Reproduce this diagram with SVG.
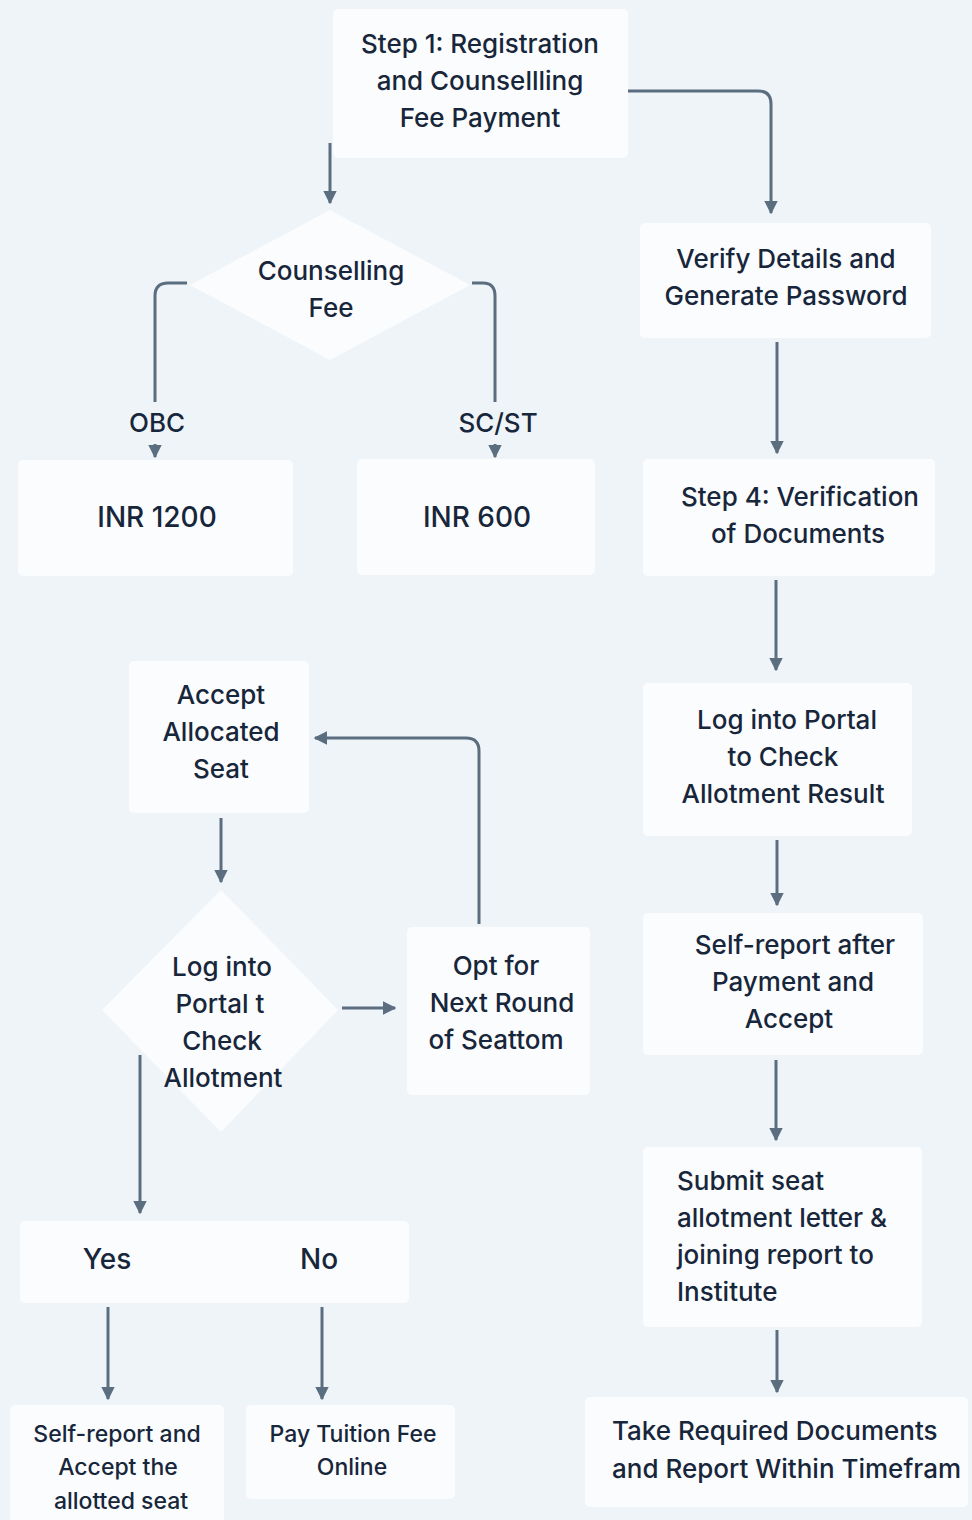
<svg xmlns="http://www.w3.org/2000/svg" width="972" height="1520" viewBox="0 0 972 1520">
<defs>
<marker id="ah" viewBox="0 0 10 10" refX="9" refY="5" markerWidth="4.5" markerHeight="4.5" orient="auto" markerUnits="strokeWidth">
<path d="M0,0 L10,5 L0,10 z" fill="#5b6e80"/>
</marker>
<style>
.bg{fill:#eff4f9}
.box{fill:#fbfcfd}
.t{font-family:Inter,"Liberation Sans",Arial,sans-serif;font-size:26px;font-weight:500;fill:#17263a;text-anchor:middle}
.l{text-anchor:start}
.s{font-size:23px}
.c{fill:none;stroke:#5b6e80;stroke-width:3;marker-end:url(#ah)}
.cn{fill:none;stroke:#5b6e80;stroke-width:3}
</style>
</defs>
<rect class="bg" x="0" y="0" width="972" height="1520"/>

<g id="connectors">
<path class="c" d="M330,143 V203"/>
<path class="c" d="M628,91 H758 Q771,91 771,104 V213"/>
<path class="cn" d="M187,283 H168 Q155,283 155,296 V402"/>
<path class="c" d="M155,444 V457"/>
<path class="cn" d="M472,283 H483 Q495,283 495,296 V402"/>
<path class="c" d="M495,444 V457"/>
<path class="c" d="M777,342 V453"/>
<path class="c" d="M776,580 V670"/>
<path class="c" d="M777,840 V905"/>
<path class="c" d="M776,1060 V1140"/>
<path class="c" d="M777,1330 V1392"/>
<path class="c" d="M221,818 V882"/>
<path class="c" d="M342,1008 H395"/>
<path class="c" d="M479,924 V751 Q479,738 466,738 H315"/>
<path class="c" d="M140,1055 V1213"/>
<path class="c" d="M108,1307 V1399"/>
<path class="c" d="M322,1307 V1399"/>
</g>

<g id="step1">
<rect class="box" x="333" y="9" width="295" height="149" rx="5"/>
<text class="t" x="480" y="53">Step 1: Registration</text>
<text class="t" x="480" y="90">and Counsellling</text>
<text class="t" x="480" y="127">Fee Payment</text>
</g>

<g id="fee-diamond">
<polygon class="box" points="330,210 470,285 330,360 190,285"/>
<text class="t" x="331" y="280">Counselling</text>
<text class="t" x="331" y="317">Fee</text>
</g>

<g id="obc-label"><text class="t" x="157" y="432">OBC</text></g>
<g id="scst-label"><text class="t" x="498" y="432">SC/ST</text></g>

<g id="inr1200">
<rect class="box" x="18" y="460" width="275" height="116" rx="5"/>
<text class="t" x="157" y="527" style="font-size:28px">INR 1200</text>
</g>

<g id="inr600">
<rect class="box" x="357" y="459" width="238" height="116" rx="5"/>
<text class="t" x="477" y="527" style="font-size:28px">INR 600</text>
</g>

<g id="verify">
<rect class="box" x="640" y="223" width="291" height="115" rx="5"/>
<text class="t" x="786" y="268">Verify Details and</text>
<text class="t" x="786" y="305">Generate Password</text>
</g>

<g id="step4">
<rect class="box" x="643" y="459" width="292" height="117" rx="5"/>
<text class="t" x="800" y="506">Step 4: Verification</text>
<text class="t" x="798" y="543">of Documents</text>
</g>

<g id="login-result">
<rect class="box" x="643" y="683" width="269" height="153" rx="5"/>
<text class="t" x="787" y="729">Log into Portal</text>
<text class="t" x="783" y="766">to Check</text>
<text class="t" x="783" y="803">Allotment Result</text>
</g>

<g id="selfreport-after">
<rect class="box" x="643" y="913" width="280" height="142" rx="5"/>
<text class="t" x="795" y="954">Self-report after</text>
<text class="t" x="793" y="991">Payment and</text>
<text class="t" x="789" y="1028">Accept</text>
</g>

<g id="submit">
<rect class="box" x="643" y="1147" width="279" height="180" rx="5"/>
<text class="t l" x="677" y="1190">Submit seat</text>
<text class="t l" x="677" y="1227">allotment letter &amp;</text>
<text class="t l" x="677" y="1264">joining report to</text>
<text class="t l" x="677" y="1301">Institute</text>
</g>

<g id="take-docs">
<rect class="box" x="585" y="1397" width="383" height="110" rx="5"/>
<text class="t l" x="612" y="1440">Take Required Documents</text>
<text class="t l" x="612" y="1478">and Report Within Timefram</text>
</g>

<g id="accept-seat">
<rect class="box" x="129" y="661" width="180" height="152" rx="5"/>
<text class="t" x="221" y="704">Accept</text>
<text class="t" x="221" y="741">Allocated</text>
<text class="t" x="221" y="778">Seat</text>
</g>

<g id="check-diamond">
<polygon class="box" points="221,890 338,1010 221,1132 102,1010"/>
<text class="t" x="222" y="976">Log into</text>
<text class="t" x="220" y="1013">Portal t</text>
<text class="t" x="222" y="1050">Check</text>
<text class="t" x="223" y="1087">Allotment</text>
</g>

<g id="opt-next">
<rect class="box" x="407" y="927" width="183" height="168" rx="5"/>
<text class="t" x="496" y="975">Opt for</text>
<text class="t" x="502" y="1012">Next Round</text>
<text class="t" x="496" y="1049">of Seattom</text>
</g>

<g id="yes-no">
<rect class="box" x="20" y="1221" width="389" height="82" rx="5"/>
<text class="t" x="107" y="1269" style="font-size:28px">Yes</text>
<text class="t" x="319" y="1269" style="font-size:28px">No</text>
</g>

<g id="selfreport-accept">
<rect class="box" x="10" y="1405" width="214" height="125" rx="5"/>
<text class="t s" x="117" y="1442">Self-report and</text>
<text class="t s" x="118" y="1475">Accept the</text>
<text class="t s" x="121" y="1509">allotted seat</text>
</g>

<g id="pay-tuition">
<rect class="box" x="246" y="1405" width="209" height="94" rx="5"/>
<text class="t s" x="353" y="1442">Pay Tuition Fee</text>
<text class="t s" x="352" y="1475">Online</text>
</g>
</svg>
